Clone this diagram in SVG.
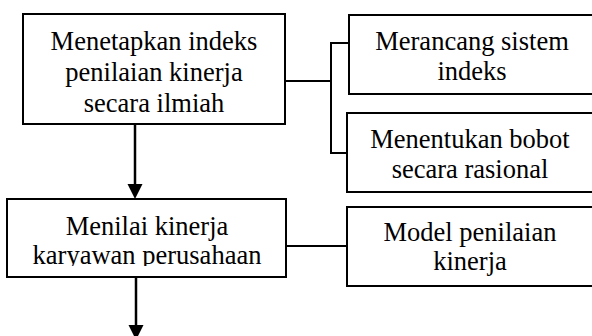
<svg xmlns="http://www.w3.org/2000/svg" width="592" height="336" viewBox="0 0 592 336">
<style>
.box{fill:#fff;stroke:#000;stroke-width:2}
.t{font-family:"Liberation Serif","Times New Roman",serif;font-size:26.5px;fill:#000;text-anchor:middle}
.ln{fill:none;stroke:#000;stroke-width:2}
.ar{fill:none;stroke:#000;stroke-width:2.5}
</style>
<defs>
<clipPath id="clipMain2"><rect x="0" y="190" width="300" height="76"/></clipPath>
</defs>
<rect width="592" height="336" fill="#fff"/>
<g id="connectors">
<polyline class="ln" points="285,81 331,81"/>
<polyline class="ln" points="348,43 331,43 331,153 348,153"/>
<polyline class="ln" points="286,246 347,246"/>
<line class="ar" x1="135" y1="125" x2="135" y2="186"/>
<polygon points="127.5,184 142.5,184 135,199" fill="#000"/>
<line class="ar" x1="136" y1="277" x2="136" y2="328"/>
<polygon points="128.5,325 143.5,325 136,340" fill="#000"/>
</g>
<g id="n1">
<rect class="box" x="23" y="14" width="262" height="110"/>
<text class="t" x="154" y="50">Menetapkan indeks</text>
<text class="t" x="154" y="81">penilaian kinerja</text>
<text class="t" x="154" y="112">secara ilmiah</text>
</g>
<g id="n2">
<rect class="box" x="349" y="15" width="246" height="79"/>
<text class="t" x="472" y="50">Merancang sistem</text>
<text class="t" x="472" y="80">indeks</text>
</g>
<g id="n3">
<rect class="box" x="347" y="113" width="248" height="79"/>
<text class="t" x="470" y="148">Menentukan bobot</text>
<text class="t" x="470" y="178">secara rasional</text>
</g>
<g id="n4">
<rect class="box" x="7" y="199" width="279" height="78"/>
<g clip-path="url(#clipMain2)">
<text class="t" x="147" y="235">Menilai kinerja</text>
<text class="t" x="147" y="264">karyawan perusahaan</text>
</g>
</g>
<g id="n5">
<rect class="box" x="347" y="207" width="248" height="79"/>
<text class="t" x="470" y="241">Model penilaian</text>
<text class="t" x="470" y="270">kinerja</text>
</g>
</svg>
